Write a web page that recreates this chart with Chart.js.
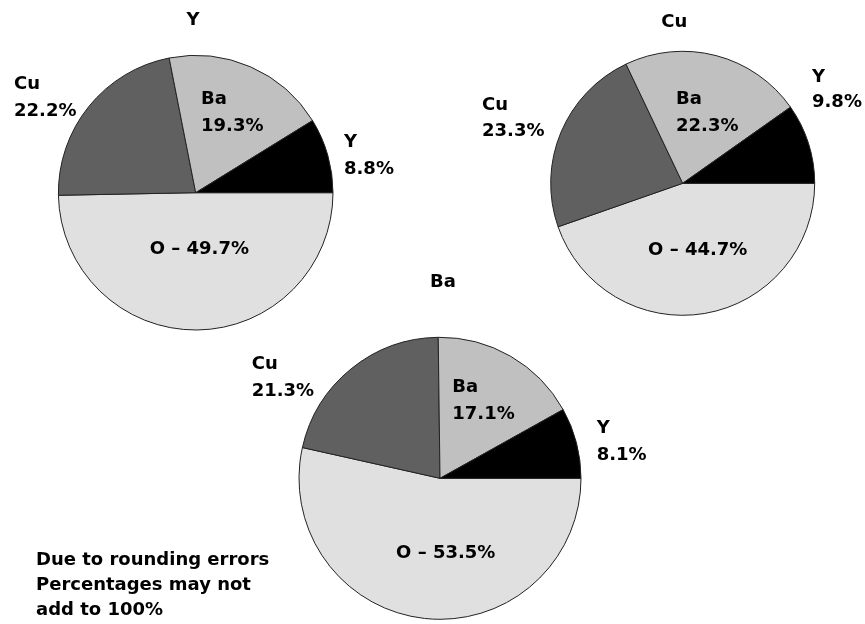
<!DOCTYPE html>
<html><head><meta charset="utf-8">
<script src="https://cdn.jsdelivr.net/npm/chart.js@4"></script>
<style>
html,body{margin:0;padding:0;background:#fff;}
#wrap{position:relative;width:865px;height:624px;overflow:hidden;background:#fff;}
.layer{position:absolute;left:0;top:0;width:865px;height:624px;}
#note{position:absolute;left:36px;top:546px;font:bold 18px "DejaVu Sans",sans-serif;line-height:25px;color:#000;white-space:nowrap;}
</style></head><body>
<div id="wrap">
<div class="layer"><canvas id="c1" width="865" height="624"></canvas></div>
<div class="layer"><canvas id="c2" width="865" height="624"></canvas></div>
<div class="layer"><canvas id="c3" width="865" height="624"></canvas></div>
<div id="note">Due to rounding errors<br>Percentages may not<br>add to 100%</div>
</div>
<script>
// ---- data ----
const elements = ['O', 'Cu', 'Ba', 'Y'];
const pieTitles = ['Y', 'Cu', 'Ba'];
const valuesY  = [49.7, 22.2, 19.3, 8.8];
const valuesCu = [44.7, 23.3, 22.3, 9.8];
const valuesBa = [53.5, 21.3, 17.1, 8.1];
const sliceColors = ['#e0e0e0', '#606060', '#c0c0c0', '#000000'];

// ---- layout (pixels) ----
const W = 865, H = 624;
const FONT = 'bold 18px "DejaVu Sans", sans-serif';
const CAP_HALF = 18 * 0.729 / 2;
const pies = [
  { canvas: 'c1', title: pieTitles[0], values: valuesY, cx: 195.7, cy: 192.7, r: 137.3,
    titleOff: [-2.7, -174.3],
    labels: [ {dx: 3.6, dy: 55, inline: true}, {dx: -181.7, dy: -110}, {dx: 5.3, dy: -95}, {dx: 148.3, dy: -52.7} ] },
  { canvas: 'c2', title: pieTitles[1], values: valuesCu, cx: 682.7, cy: 183.3, r: 132,
    titleOff: [-8.5, -163.3],
    labels: [ {dx: 15, dy: 65, inline: true}, {dx: -200.7, dy: -80, lh: 26}, {dx: -6.7, dy: -85.6}, {dx: 129.3, dy: -108.3, lh: 25} ] },
  { canvas: 'c3', title: pieTitles[2], values: valuesBa, cx: 440, cy: 478.3, r: 141,
    titleOff: [3, -198.3],
    labels: [ {dx: 5.7, dy: 73.4, inline: true}, {dx: -188.3, dy: -115.6}, {dx: 12.3, dy: -93.3}, {dx: 156.7, dy: -51.6} ] }
];

const labelPlugin = {
  id: 'pieLabels',
  afterDatasetsDraw(chart, args, opts) {
    const meta = chart.getDatasetMeta(0);
    const arc0 = meta.data[0];
    if (!arc0) return;
    const cx = arc0.x, cy = arc0.y;
    const ctx = chart.ctx;
    ctx.save();
    ctx.font = FONT;
    ctx.fillStyle = '#000';
    ctx.textBaseline = 'alphabetic';
    // title
    ctx.textAlign = 'center';
    ctx.fillText(opts.title, cx + opts.titleOff[0], cy + opts.titleOff[1] + CAP_HALF);
    const data = chart.data.datasets[0].data;
    chart.data.labels.forEach((name, i) => {
      const L = opts.labels[i];
      const pct = data[i].toFixed(1) + '%';
      if (L.inline) {
        ctx.textAlign = 'center';
        ctx.fillText(name + ' \u2013 ' + pct, cx + L.dx, cy + L.dy + CAP_HALF);
      } else {
        const lh = L.lh || 27;
        ctx.textAlign = 'left';
        ctx.fillText(name, cx + L.dx, cy + L.dy + CAP_HALF);
        ctx.fillText(pct, cx + L.dx, cy + L.dy + lh + CAP_HALF);
      }
    });
    ctx.restore();
  }
};

pies.forEach(p => {
  const rr = p.r + 0.5;
  new Chart(document.getElementById(p.canvas), {
    type: 'pie',
    data: {
      labels: elements,
      datasets: [{
        data: p.values,
        backgroundColor: sliceColors,
        borderColor: '#222',
        borderWidth: 1
      }]
    },
    options: {
      responsive: false,
      devicePixelRatio: 1,
      animation: false,
      rotation: 90,
      layout: { padding: { left: p.cx - rr, top: p.cy - rr, right: W - p.cx - rr, bottom: H - p.cy - rr } },
      plugins: {
        legend: { display: false },
        tooltip: { enabled: false },
        title: { display: false },
        pieLabels: { title: p.title, titleOff: p.titleOff, labels: p.labels }
      }
    },
    plugins: [labelPlugin]
  });
});
</script>
</body></html>
